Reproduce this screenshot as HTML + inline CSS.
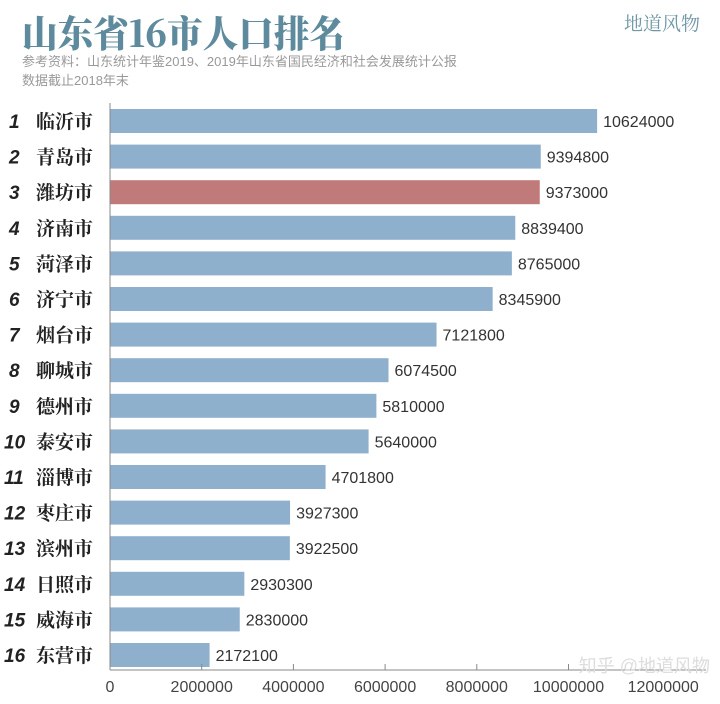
<!DOCTYPE html>
<html><head><meta charset="utf-8"><style>
body{margin:0;background:#fff;width:720px;height:699px;overflow:hidden;font-family:"Liberation Sans","Noto Sans CJK SC",sans-serif;}
</style></head><body>
<svg width="720" height="699">
<text x="22" y="47" textLength="323" lengthAdjust="spacingAndGlyphs" font-family="'Noto Serif CJK SC',serif" font-weight="900" font-size="37" fill="#5d8b9d">山东省16市人口排名</text>
<text x="700" y="30" text-anchor="end" font-family="'Noto Serif CJK SC',serif" font-size="19" fill="#6f97a6">地道风物</text>
<text x="22" y="66" font-size="13" fill="#999">参考资料：山东统计年鉴2019、2019年山东省国民经济和社会发展统计公报</text>
<text x="22" y="85" font-size="13" fill="#999">数据截止2018年末</text>
<g id="chart"></g>
<text x="710" y="672" text-anchor="end" font-size="18" fill="#ddd">知乎 @地道风物</text>
</svg>
<script>
const cities=["临沂市","青岛市","潍坊市","济南市","菏泽市","济宁市","烟台市","聊城市","德州市","泰安市","淄博市","枣庄市","滨州市","日照市","威海市","东营市"];
const population=[10624000,9394800,9373000,8839400,8765000,8345900,7121800,6074500,5810000,5640000,4701800,3927300,3922500,2930300,2830000,2172100];
const ticks=[0,2000000,4000000,6000000,8000000,10000000,12000000];
const highlight=2;
const ns="http://www.w3.org/2000/svg";
const g=document.getElementById('chart');
const x=v=>110+v*(91.7/2000000);
const y=i=>121+i*35.6;
function mk(t,a,txt){const e=document.createElementNS(ns,t);for(const k in a)e.setAttribute(k,a[k]);if(txt!=null)e.textContent=txt;g.appendChild(e);return e;}
population.forEach((v,i)=>{
 const r=mk('rect',{x:110,y:y(i)-12,width:x(v)-110,height:24,fill:i===highlight?'#c07a7a':'#8fb0cd'});
 
 
 const l=mk('text',{x:x(v)+6,y:y(i)+6,'font-size':16,fill:'#333'},String(v));
 
 
 const rk=mk('text',{x:i<9?9:4,y:y(i)+7,'font-size':19,'font-weight':'bold','font-style':'italic',fill:'#222'},String(i+1));
 
 
 const c=mk('text',{x:36,y:y(i)+7,'font-size':19,'font-weight':'bold','font-family':"'Noto Serif CJK SC',serif",fill:'#222'},cities[i]);
 
 
});
const ya=mk('line',{x1:110,y1:103,x2:110,y2:670,stroke:'#888','stroke-width':1});


const xa=mk('line',{x1:110,y1:670,x2:706,y2:670,stroke:'#888','stroke-width':1});


ticks.forEach((t,i)=>{
 const tk=mk('line',{x1:x(t),y1:664,x2:x(t),y2:670,stroke:'#888'});
 
 
 const tl=mk('text',{x:i===ticks.length-1?x(t)+3:x(t),y:692,'text-anchor':'middle','font-size':16,fill:'#444'},String(t));
 
 
});
</script>
</body></html>
